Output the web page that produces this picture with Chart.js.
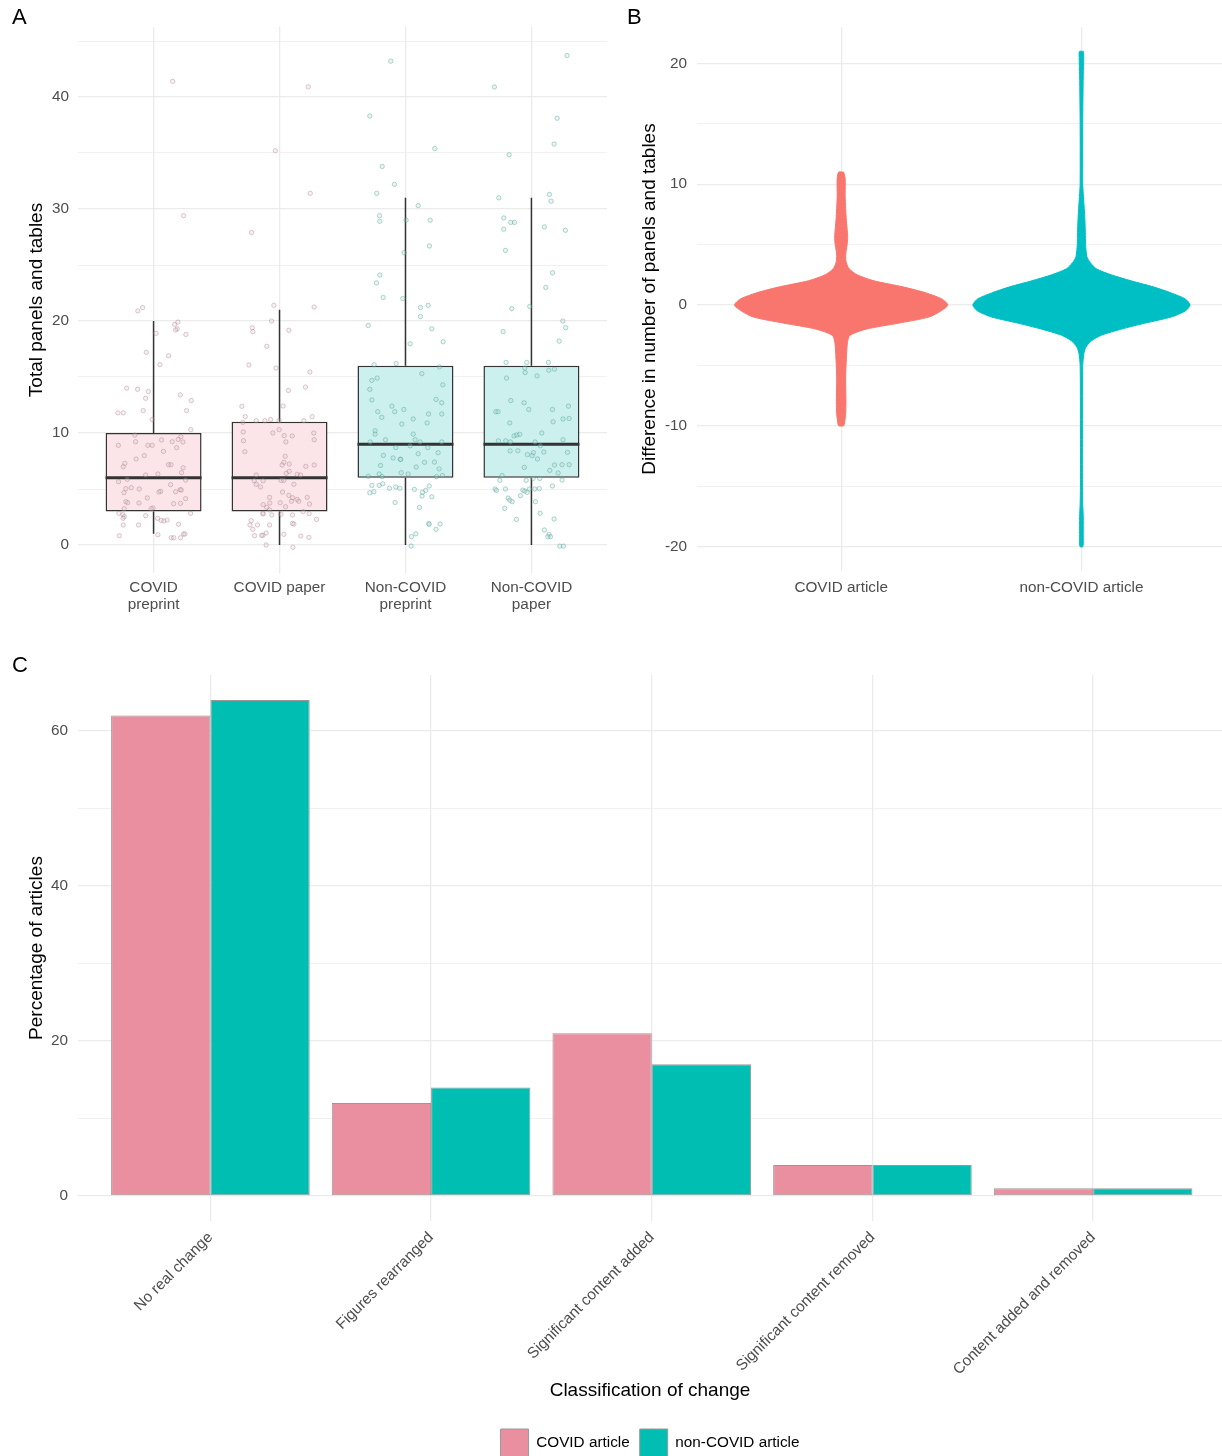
<!DOCTYPE html>
<html>
<head>
<meta charset="utf-8">
<script src="https://cdn.jsdelivr.net/npm/chart.js@4.4.1/dist/chart.umd.min.js"></script>
<style>
  html, body { margin: 0; padding: 0; background: #fff; overflow: hidden; width: 1222px; height: 1456px; }
  canvas { position: absolute; }
  .tag { position: absolute; z-index: 2; font: 22px 'Liberation Sans', Arial, sans-serif; line-height: 22px; color: #000; }
</style>
</head>
<body>
<canvas id="panelA" width="615" height="625" style="left:0;top:0;width:615px;height:625px"></canvas>
<canvas id="panelB" width="607" height="625" style="left:615px;top:0;width:607px;height:625px"></canvas>
<canvas id="panelC" width="1222" height="842" style="left:0;top:625px;width:1222px;height:842px"></canvas>
<div class="tag" style="left:12px;top:6px">A</div>
<div class="tag" style="left:627px;top:6px">B</div>
<div class="tag" style="left:12px;top:654px">C</div>
<script>
// ---------- Panel A: total panels and tables per article group ----------
const groupLabels = [['COVID', 'preprint'], ['COVID paper'], ['Non-COVID', 'preprint'], ['Non-COVID', 'paper']];
const boxLowerWhisker = [1, 0, 0, 0];
const boxQ1 = [3, 3, 6, 6];
const boxMedian = [6, 6, 9, 9];
const boxQ3 = [10, 11, 16, 16];
const boxUpperWhisker = [20, 21, 31, 31];
const panelAMajorTicks = [0, 10, 20, 30, 40];
const panelAMinorTicks = [5, 15, 25, 35, 45];

// observations as [horizontal jitter, total panels and tables]
const covidPreprintObs = [
  [0.151,41.4],[0.238,29.4],[-0.125,20.9],[-0.087,21.2],[0.167,19.7],[0.193,19.9],[0.188,19.3],[0.175,19.2],
  [0.257,18.8],[0.019,18.9],[-0.058,17.2],[0.119,16.9],[0.050,16.1],[-0.214,14.0],[-0.127,13.9],[-0.042,13.7],
  [-0.063,13.1],[0.212,13.4],[0.299,12.9],[-0.283,11.8],[-0.241,11.8],[-0.082,12.0],[0.262,12.0],[-0.011,11.2],
  [0.296,10.3],[-0.148,9.82],[-0.143,9.22],[-0.280,8.90],[-0.045,8.90],[-0.011,8.90],[0.063,9.38],[0.148,9.22],
  [0.196,9.43],[0.217,9.67],[0.183,8.69],[0.233,9.20],[0.079,8.36],[-0.074,7.98],[-0.138,7.68],[-0.228,7.29],
  [-0.241,6.99],[0.119,7.17],[0.138,7.17],[0.235,6.90],[0.222,6.46],[-0.063,6.25],[0.034,6.34],[-0.278,5.65],
  [-0.209,5.86],[-0.177,5.12],[-0.235,4.67],[-0.220,5.03],[-0.114,5.00],[0.056,4.79],[0.042,4.73],[0.135,5.39],
  [0.212,4.94],[0.175,4.76],[0.220,4.91],[0.254,5.80],[-0.050,4.20],[-0.220,3.87],[-0.206,3.78],[-0.116,3.75],
  [0.159,3.69],[0.214,3.72],[0.254,4.14],[-0.005,3.30],[-0.019,3.24],[-0.233,3.24],[-0.275,2.83],[-0.243,2.71],
  [-0.233,2.53],[-0.243,2.38],[-0.063,2.62],[0.032,2.38],[0.061,2.20],[0.082,2.14],[0.108,2.23],[0.294,2.83],
  [-0.241,1.79],[-0.119,1.79],[0.198,1.85],[-0.272,0.83],[0.034,0.92],[0.140,0.65],[0.161,0.65],[0.214,0.65],
  [0.238,0.98],[0.249,0.98]
];
const covidPaperObs = [
  [0.228,40.9],[-0.034,35.2],[0.244,31.4],[-0.222,27.9],[-0.045,21.4],[0.275,21.25],[-0.063,20.0],[-0.217,19.4],
  [-0.212,19.05],[0.074,19.17],[-0.101,17.74],[-0.243,16.07],[-0.029,15.8],[0.241,15.45],[0.071,13.8],[0.206,14.1],
  [-0.299,12.38],[0.029,12.41],[-0.272,11.46],[-0.185,11.1],[-0.116,11.1],[-0.071,11.2],[-0.003,11.1],[0.193,11.1],
  [0.259,11.46],[-0.291,10.95],[-0.288,10.1],[-0.286,9.31],[-0.275,8.33],[-0.053,10.0],[-0.003,10.3],[0.037,9.77],
  [0.101,9.74],[0.050,9.2],[0.272,10.0],[0.275,9.4],[0.045,7.92],[0.034,7.38],[0.021,7.14],[0.077,7.23],
  [0.275,7.14],[0.209,7.02],[-0.185,6.25],[-0.130,5.74],[-0.201,5.74],[-0.185,5.42],[-0.151,5.18],[0.013,5.77],
  [0.034,5.77],[0.053,6.4],[0.077,6.58],[0.140,6.31],[0.167,6.25],[0.114,5.42],[0.024,4.73],[0.074,4.43],
  [0.103,4.22],[0.140,4.07],[0.153,3.9],[0.095,3.9],[0.005,3.78],[-0.079,4.25],[-0.077,3.75],[-0.130,3.6],
  [0.220,4.25],[0.238,3.66],[-0.101,3.36],[-0.079,3.13],[0.048,3.42],[-0.130,2.77],[-0.061,2.68],[0.011,2.74],
  [0.103,2.68],[0.188,2.98],[0.235,2.8],[0.294,2.29],[-0.225,2.17],[-0.235,1.79],[-0.212,1.4],[-0.175,1.79],
  [-0.132,2.83],[-0.079,1.79],[0.103,1.93],[0.114,1.87],[-0.198,0.83],[-0.132,0.86],[-0.143,0.86],[-0.106,1.07],
  [0.169,0.8],[0.233,0.68],[-0.106,0.0],[0.034,0.95],[0.106,-0.21]
];
const nonCovidPreprintObs = [
  [-0.116,43.2],[-0.283,38.3],[0.233,35.4],[-0.185,33.8],[-0.087,32.2],[-0.228,31.4],[0.101,30.3],[-0.206,29.4],
  [-0.204,28.9],[0.005,29.0],[0.196,29.0],[0.190,26.7],[-0.011,26.1],[-0.204,24.1],[-0.230,23.4],[-0.177,22.1],
  [-0.021,22.0],[0.119,21.2],[0.180,21.4],[0.119,20.4],[-0.296,19.6],[0.209,19.3],[0.037,17.97],[0.299,18.15],
  [-0.249,16.1],[-0.074,16.2],[0.270,15.9],[0.130,15.3],[-0.225,14.9],[-0.267,14.7],[-0.283,13.9],[0.296,14.3],
  [-0.267,12.95],[0.243,13.0],[0.288,12.7],[-0.108,12.4],[-0.220,11.9],[-0.085,11.9],[-0.013,12.1],[0.288,11.7],
  [0.183,11.7],[-0.188,11.4],[0.061,11.25],[-0.029,10.8],[0.172,10.9],[-0.241,10.2],[-0.241,9.9],[0.061,9.9],
  [-0.280,9.2],[-0.159,9.4],[0.077,9.4],[0.116,9.2],[0.288,9.2],[-0.077,8.7],[0.037,8.86],[0.177,8.7],
  [0.259,8.24],[-0.175,8.0],[-0.098,7.77],[-0.042,7.65],[-0.037,7.65],[0.101,8.15],[0.085,6.96],[0.151,7.38],
  [0.230,7.4],[-0.198,7.1],[0.267,6.8],[-0.034,6.45],[0.021,6.34],[-0.209,6.34],[0.246,6.1],[0.294,6.2],
  [-0.296,6.13],[-0.185,6.1],[-0.267,5.32],[-0.209,5.32],[-0.180,5.47],[-0.283,4.67],[-0.251,4.76],[-0.127,5.06],
  [-0.077,5.18],[-0.045,5.06],[0.071,4.97],[0.135,4.70],[0.161,4.88],[0.188,5.27],[0.132,4.37],[0.209,4.31],
  [-0.082,3.80],[0.111,3.36],[0.185,1.92],[0.188,1.84],[0.275,1.87],[0.243,1.4],[0.082,1.0],[0.048,0.75],
  [0.045,-0.09]
];
const nonCovidPaperObs = [
  [0.283,43.7],[-0.294,40.9],[0.204,38.1],[0.180,35.8],[-0.177,34.85],[0.143,31.3],[0.156,30.7],[-0.259,31.0],
  [-0.220,29.2],[-0.164,28.8],[-0.135,28.8],[-0.220,28.2],[0.103,28.4],[0.270,28.1],[-0.206,26.3],[0.167,24.3],
  [0.114,23.0],[-0.156,21.1],[-0.013,21.3],[0.249,20.0],[0.272,19.4],[-0.225,19.05],[0.220,18.2],[-0.201,16.3],
  [-0.037,16.3],[0.135,16.3],[-0.053,15.8],[-0.050,15.4],[0.138,15.6],[0.183,15.7],[-0.198,14.9],[0.045,15.1],
  [-0.164,12.9],[-0.058,12.7],[-0.021,12.1],[-0.283,11.9],[-0.265,11.9],[0.167,12.1],[0.294,12.4],[-0.172,10.9],
  [0.172,11.0],[0.251,11.25],[0.299,11.3],[0.082,10.0],[-0.138,9.74],[-0.116,9.83],[-0.093,9.88],[-0.262,9.3],
  [-0.204,9.3],[-0.167,9.2],[0.029,9.2],[0.071,8.86],[0.251,9.4],[-0.169,8.4],[-0.108,8.42],[0.016,8.24],
  [0.005,7.98],[-0.032,8.07],[0.098,8.3],[0.286,8.27],[0.048,7.68],[-0.056,6.93],[0.146,6.66],[0.183,7.14],
  [0.243,7.17],[0.299,7.17],[0.212,6.43],[-0.233,6.2],[-0.251,5.77],[-0.042,5.77],[0.013,5.94],[0.066,5.94],
  [-0.288,5.0],[-0.278,4.88],[-0.206,5.0],[-0.069,4.9],[-0.053,4.82],[-0.034,4.7],[-0.016,5.0],[0.026,5.0],
  [0.063,5.03],[0.243,5.8],[0.167,5.27],[-0.087,4.4],[-0.185,4.19],[-0.172,4.0],[-0.153,3.87],[0.032,3.87],
  [-0.212,3.27],[0.069,2.83],[0.180,2.32],[-0.119,2.29],[0.103,1.34],[0.140,0.95],[0.151,0.74],[0.130,0.74],
  [0.225,-0.1],[0.254,-0.1]
];

// ---------- Panel B: change in panels and tables between versions ----------
const articleTypes = ['COVID article', 'non-COVID article'];
const panelBMajorTicks = [-20, -10, 0, 10, 20];
const panelBMinorTicks = [-15, -5, 5, 15];
const covidViolinLevels = [11, 10.5, 9, 8, 7, 6, 5.5, 5, 4.5, 4, 3.5, 3, 2.5, 2, 1.5, 1, 0.5, 0,
  -0.5, -1, -1.5, -2, -2.5, -3, -4, -6, -8, -9, -9.7, -10];
const covidViolinHalfWidth = [0.0104, 0.0166, 0.0166, 0.0187, 0.0216, 0.0261, 0.0270, 0.0249, 0.0207, 0.0187,
  0.0216, 0.0332, 0.0664, 0.137, 0.257, 0.353, 0.419, 0.444,
  0.415, 0.365, 0.241, 0.104, 0.0373, 0.0270, 0.0228, 0.0187, 0.0199, 0.0187, 0.0145, 0.0104];
const nonCovidViolinLevels = [21, 20.5, 19, 15, 10, 9, 8, 7, 6, 5, 4, 3.5, 3, 2.5, 2, 1.5, 1, 0.5, 0,
  -0.5, -1, -1.5, -2, -2.5, -3, -3.5, -4, -5, -10, -15, -16.5, -17.5, -19, -20];
const nonCovidViolinHalfWidth = [0.0083, 0.0095, 0.0075, 0.0054, 0.0054, 0.0083, 0.0116, 0.0145, 0.0162, 0.0174,
  0.0228, 0.0373, 0.0622, 0.124, 0.207, 0.299, 0.373, 0.432, 0.452,
  0.432, 0.373, 0.266, 0.166, 0.083, 0.0394, 0.0187, 0.0104, 0.0054, 0.0041, 0.0041, 0.0054, 0.0075, 0.0075, 0.0062];

// ---------- Panel C: classification of change ----------
const changeCategories = ['No real change', 'Figures rearranged', 'Significant content added',
  'Significant content removed', 'Content added and removed'];
const covidPct = [62, 12, 21, 4, 1];
const nonCovidPct = [64, 14, 17, 4, 1];
const panelCMajorTicks = [0, 20, 40, 60];
const panelCMinorTicks = [10, 30, 50];

// ---------- shared styling ----------
const FONT = "'Liberation Sans', Arial, Helvetica, sans-serif";
const GRID = '#EBEBEB';
const TICK_COLOR = '#4D4D4D';
Chart.defaults.font.family = FONT;
Chart.defaults.animation = false;
Chart.defaults.events = [];
Chart.defaults.plugins.tooltip.enabled = false;
Chart.defaults.plugins.legend.display = false;

function valueAxis(o) {
  const all = [...o.major, ...o.minor].sort((a, b) => a - b);
  return {
    type: 'linear', position: 'left', min: o.min, max: o.max,
    afterBuildTicks: s => { s.ticks = all.map(v => ({ value: v })); },
    afterFit: s => { s.width = o.width; },
    ticks: {
      color: TICK_COLOR, font: { size: 15.3 }, padding: o.labelPad, autoSkip: false,
      callback: v => (o.major.includes(v) ? String(v) : '')
    },
    grid: {
      color: GRID, drawTicks: false,
      lineWidth: c => (c.tick && o.major.includes(c.tick.value) ? 1.3 : 0.7)
    },
    border: { display: false },
    title: { display: true, text: o.title, color: '#000', font: { size: 19 }, padding: { top: o.titlePad, bottom: 0 } }
  };
}

function categoryAxis(o) {
  const axis = {
    type: 'linear', position: 'bottom', min: o.min, max: o.max, offset: false,
    afterBuildTicks: s => { s.ticks = o.positions.map(v => ({ value: v })); },
    afterFit: s => { s.height = o.height; },
    ticks: {
      color: TICK_COLOR, font: { size: 15.3, lineHeight: 1.12 }, padding: o.labelPad, autoSkip: false,
      minRotation: o.rotation || 0, maxRotation: o.rotation || 0,
      callback: v => o.labels[o.positions.indexOf(v)]
    },
    grid: { color: GRID, drawTicks: false, offset: false, lineWidth: 1.3 },
    border: { display: false },
    title: { display: false }
  };
  if (o.title) {
    axis.title = { display: true, text: o.title, color: '#000', font: { size: 19 }, padding: { top: 0, bottom: o.titlePad } };
  }
  return axis;
}

// ---------- Panel A ----------
const groupPos = [1, 2, 3, 4];
const groupObs = [covidPreprintObs, covidPaperObs, nonCovidPreprintObs, nonCovidPaperObs];
const boxFill = ['#FBE5E9', '#FBE5E9', '#CBF0EE', '#CBF0EE'];
const pointStroke = ['rgba(150,105,118,0.36)', 'rgba(150,105,118,0.36)', 'rgba(70,150,140,0.42)', 'rgba(70,150,140,0.42)'];
const pointFill = ['rgba(225,190,200,0.25)', 'rgba(225,190,200,0.25)', 'rgba(170,220,212,0.28)', 'rgba(170,220,212,0.28)'];
const boxHalf = 0.381;

const medianSegments = [];
const whiskerSegments = [];
groupPos.forEach((x, i) => {
  medianSegments.push({ x: x - boxHalf, y: boxMedian[i] }, { x: x + boxHalf, y: boxMedian[i] }, { x: x, y: null });
  whiskerSegments.push({ x, y: boxQ3[i] }, { x, y: boxUpperWhisker[i] }, { x, y: null },
                       { x, y: boxLowerWhisker[i] }, { x, y: boxQ1[i] }, { x, y: null });
});

new Chart(document.getElementById('panelA'), {
  type: 'scatter',
  data: {
    datasets: [
      ...groupObs.map((obs, i) => ({
        type: 'scatter', order: 0,
        data: obs.map(([j, v]) => ({ x: groupPos[i] + j, y: v })),
        pointRadius: 2.2, borderWidth: 0.9,
        borderColor: pointStroke[i], backgroundColor: pointFill[i]
      })),
      { type: 'line', order: 1, data: medianSegments, borderColor: '#333333', borderWidth: 3,
        pointRadius: 0, spanGaps: false, fill: false },
      { type: 'line', order: 1, data: whiskerSegments, borderColor: '#333333', borderWidth: 1.5,
        pointRadius: 0, spanGaps: false, fill: false },
      { type: 'bar', order: 2,
        data: groupPos.map((x, i) => ({ x, y: [boxQ1[i], boxQ3[i]] })),
        backgroundColor: boxFill, borderColor: '#333333', borderWidth: 1.5, borderSkipped: false,
        barPercentage: 0.762, categoryPercentage: 1 }
    ]
  },
  options: {
    responsive: false,
    layout: { padding: { top: 27, right: 8, left: 0, bottom: 0 } },
    scales: {
      x: categoryAxis({ min: 0.4, max: 4.6, positions: groupPos, labels: groupLabels, height: 52, labelPad: 5.9 }),
      y: valueAxis({ min: -2.5, max: 46.25, major: panelAMajorTicks, minor: panelAMinorTicks, width: 78,
                     labelPad: 9, title: 'Total panels and tables', titlePad: 25.6 })
    }
  }
});

// ---------- Panel B ----------
const violinPos = [1, 2];
const violinColors = ['#F8766D', '#00BFC4'];
function violinOutline(center, levels, half) {
  const right = levels.map((y, i) => ({ x: center + half[i], y }));
  const left = levels.map((y, i) => ({ x: center - half[i], y })).reverse();
  return [...right, ...left, right[0]];
}
const violins = [
  violinOutline(violinPos[0], covidViolinLevels, covidViolinHalfWidth),
  violinOutline(violinPos[1], nonCovidViolinLevels, nonCovidViolinHalfWidth)
];

new Chart(document.getElementById('panelB'), {
  type: 'scatter',
  data: {
    datasets: violins.map((pts, i) => ({
      type: 'scatter', showLine: true, data: pts, fill: 'shape', tension: 0.25,
      backgroundColor: violinColors[i], borderColor: violinColors[i], borderWidth: 1, pointRadius: 0
    }))
  },
  options: {
    responsive: false,
    layout: { padding: { top: 27, right: 0, left: 0, bottom: 0 } },
    scales: {
      x: categoryAxis({ min: 0.4, max: 2.585, positions: violinPos, labels: articleTypes, height: 54, labelPad: 7.9 }),
      y: valueAxis({ min: -22.03, max: 23.02, major: panelBMajorTicks, minor: panelBMinorTicks, width: 82,
                     labelPad: 10, title: 'Difference in number of panels and tables', titlePad: 23.6 })
    }
  }
});

// ---------- Panel C ----------
const changePos = [1, 2, 3, 4, 5];
new Chart(document.getElementById('panelC'), {
  type: 'bar',
  data: {
    datasets: [
      { label: 'COVID article', data: changePos.map((x, i) => ({ x, y: covidPct[i] })),
        backgroundColor: '#EA8FA0', borderColor: '#999999', borderWidth: 1, borderSkipped: false,
        categoryPercentage: 0.9, barPercentage: 1 },
      { label: 'non-COVID article', data: changePos.map((x, i) => ({ x, y: nonCovidPct[i] })),
        backgroundColor: '#00BFB2', borderColor: '#999999', borderWidth: 1, borderSkipped: false,
        categoryPercentage: 0.9, barPercentage: 1 }
    ]
  },
  options: {
    responsive: false,
    layout: { padding: { top: 50, right: 0, left: 0, bottom: 0 } },
    plugins: {
      legend: {
        display: true, position: 'bottom', fullSize: false,
        labels: { boxWidth: 28, boxHeight: 28, padding: 10, color: '#000', font: { size: 15.3 } }
      }
    },
    scales: {
      x: categoryAxis({ min: 0.4, max: 5.584, positions: changePos, labels: changeCategories, height: 198,
                        labelPad: 8, rotation: 45, title: 'Classification of change', titlePad: 16.6 }),
      y: valueAxis({ min: -3.23, max: 67.23, major: panelCMajorTicks, minor: panelCMinorTicks, width: 78,
                     labelPad: 10, title: 'Percentage of articles', titlePad: 25.6 })
    }
  }
});
</script>
</body>
</html>
